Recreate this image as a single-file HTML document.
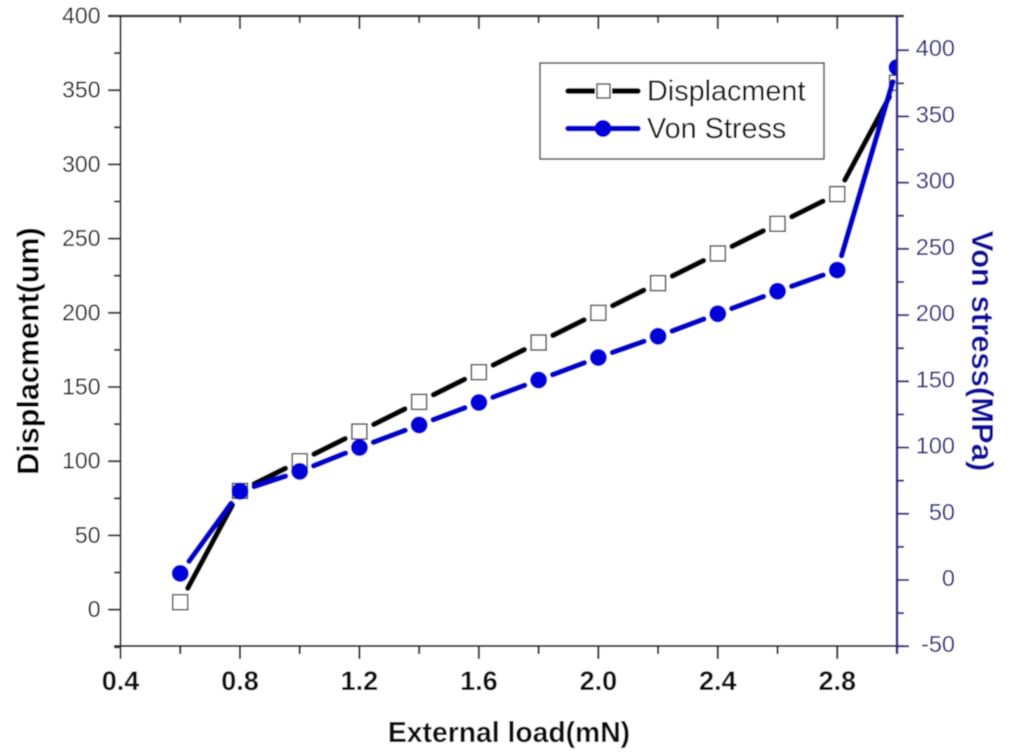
<!DOCTYPE html>
<html>
<head>
<meta charset="utf-8">
<style>
html,body{margin:0;padding:0;background:#fff;}
svg{display:block;font-family:"Liberation Sans",Arial,sans-serif;}
</style>
</head>
<body>
<svg id="chart" width="1024" height="754" viewBox="0 0 1024 754" xmlns="http://www.w3.org/2000/svg">
<defs><clipPath id="plot-clip"><rect x="120" y="16" width="777" height="630"/></clipPath></defs>
<g id="root" filter="url(#soft)"></g>
<filter id="soft" x="0" y="0" width="100%" height="100%"><feGaussianBlur stdDeviation="0.45"/></filter>
</svg>
<script>
var loads = [0.6,0.8,1.0,1.2,1.4,1.6,1.8,2.0,2.2,2.4,2.6,2.8,3.0];
var displacement = [5,80,100,120,140,160,180,200,220,240,260,280,355];
var vonStress = [5,67,82,100,117,134,151,168,184,201,218,234,387];
var xTickLabels = ['0.4','0.8','1.2','1.6','2.0','2.4','2.8'];
var leftTickLabels = ['0','50','100','150','200','250','300','350','400'];
var rightTickLabels = ['-50','0','50','100','150','200','250','300','350','400'];

var NS = 'http://www.w3.org/2000/svg';
var root = document.getElementById('root');
var L = 120.5, R = 897, T = 16, B = 646;
var AXIS_NAVY = '#2a2580';
function X(v){ return L + (v - 0.4) / 2.6 * (R - L); }
function YL(v){ return B - (v + 24.5) / 424.5 * (B - T); }
function YR(v){ return 580 - v * 1.3245; }

function make(tag, attrs, parent){
  var el = document.createElementNS(NS, tag);
  for (var k in attrs) el.setAttribute(k, attrs[k]);
  (parent || root).appendChild(el);
  return el;
}
function line(x1,y1,x2,y2,color,w,parent){
  return make('line',{x1:x1,y1:y1,x2:x2,y2:y2,stroke:color,'stroke-width':w},parent);
}
function label(str,x,y,size,weight,color,anchor,parent){
  var t = make('text',{x:x,y:y,'font-size':size,'font-weight':weight,fill:color,'text-anchor':anchor},parent);
  t.textContent = str;
  return t;
}

/* plot area */
var frame = make('rect',{x:0,y:0,width:1024,height:754,fill:'#fff'});



/* series */
function drawSeries(name, xs, ys, yFn, color, gap, drawMarker){
  var g = make('g',{'clip-path':'url(#plot-clip)'});
  
  
  for (var i = 0; i < xs.length - 1; i++){
    var x1 = X(xs[i]), y1 = yFn(ys[i]), x2 = X(xs[i+1]), y2 = yFn(ys[i+1]);
    var d = Math.sqrt((x2-x1)*(x2-x1)+(y2-y1)*(y2-y1));
    var ux = (x2-x1)/d, uy = (y2-y1)/d;
    var seg = make('line',{x1:x1+ux*gap,y1:y1+uy*gap,x2:x2-ux*gap,y2:y2-uy*gap,stroke:color,'stroke-width':5.5,'stroke-linecap':'round'},g);
    
    
  }
  for (var j = 0; j < xs.length; j++){
    var m = drawMarker(X(xs[j]), yFn(ys[j]), g);
    
    
  }
}
function squareMarker(x,y,g){
  return make('rect',{x:x-7.5,y:y-7.5,width:15,height:15,fill:'#fff',stroke:'#4a4a4a','stroke-width':1.5},g);
}
function circleMarker(x,y,g){
  return make('circle',{cx:x,cy:y,r:8.5,fill:'#0505d8'},g);
}
drawSeries('displacement', loads, displacement, YL, '#000', 16, squareMarker);
drawSeries('von-stress', loads, vonStress, YR, '#0505c8', 15, circleMarker);

/* top axis */
var topAxis = make('g',{});


line(108,16,904,16,'#333',2.5,topAxis);

/* bottom axis */
var xAxis = make('g',{});


line(114,646,904,646,'#222',2,xAxis);
xTickLabels.forEach(function(s, i){
  var v = parseFloat(s);
  var x = X(v);
  line(x,646,x,659,'#222',2,xAxis);
  line(x,16,x,29,'#333',2,xAxis);
  if (i < xTickLabels.length - 1){
    var mx = X(v + 0.2);
    line(mx,646,mx,654,'#222',2,xAxis);
    line(mx,16,mx,23,'#333',2,xAxis);
  }
  var t = label(s,x,690,27,'bold','#111','middle',xAxis);
  
  
});
line(R,646,R,654,'#222',2,xAxis);

/* left axis */
var yAxis = make('g',{});


line(L,16,L,659,'#333',2,yAxis);
leftTickLabels.forEach(function(s, i){
  var v = parseFloat(s);
  var y = YL(v);
  line(108,y,L,y,'#333',2,yAxis);
  if (i < leftTickLabels.length - 1) line(114,YL(v+25),L,YL(v+25),'#333',2,yAxis);
  var t = label(s,100.5,y+7.5,23,'normal','#222','end',yAxis);
  
  
});
line(114,YL(-25)+0.5,L,YL(-25)+0.5,'#333',2,yAxis);

/* right axis */
var rAxis = make('g',{});


line(R,16,R,654,AXIS_NAVY,2.5,rAxis);
rightTickLabels.forEach(function(s, i){
  var v = parseFloat(s);
  var y = YR(v);
  line(R,y,R+12,y,AXIS_NAVY,2,rAxis);
  if (i < rightTickLabels.length - 1) line(R,YR(v+25),R+7,YR(v+25),AXIS_NAVY,2,rAxis);
  var t = label(s,955,y+6,23.5,'normal','#26217d','end',rAxis);
  
  
});

/* titles */
var xTitle = label('External load(mN)',509,742,28.3,'bold','#111','middle');



var yTitle = label('Displacment(um)',0,0,30.5,'bold','#000','middle');
yTitle.setAttribute('transform','translate(38.5,351) rotate(-90)');



var rTitle = label('Von stress(MPa)',0,0,31,'bold','#0a0a9a','middle');
rTitle.setAttribute('transform','translate(972,351) rotate(90)');



/* legend */
var leg = make('g',{});


make('rect',{x:540,y:63,width:284,height:96,fill:'#fff',stroke:'#444','stroke-width':1.5},leg);

var e1 = make('g',{},leg);


line(568,91,638,91,'#000',5.5,e1).setAttribute('stroke-linecap','round');
make('rect',{x:595,y:84,width:17,height:14,fill:'#fff',stroke:'none'},e1);
make('rect',{x:597,y:84,width:13,height:14,fill:'#fff',stroke:'#555','stroke-width':1.5},e1);
label('Displacment',647,100.5,28.8,'normal','#111','start',e1);

var e2 = make('g',{},leg);


line(568,128.5,638,128.5,'#0505c8',5.5,e2).setAttribute('stroke-linecap','round');
make('circle',{cx:603,cy:128.5,r:8.5,fill:'#0505d8'},e2);
label('Von Stress',647,138,28.8,'normal','#111','start',e2);
</script>
</body>
</html>
